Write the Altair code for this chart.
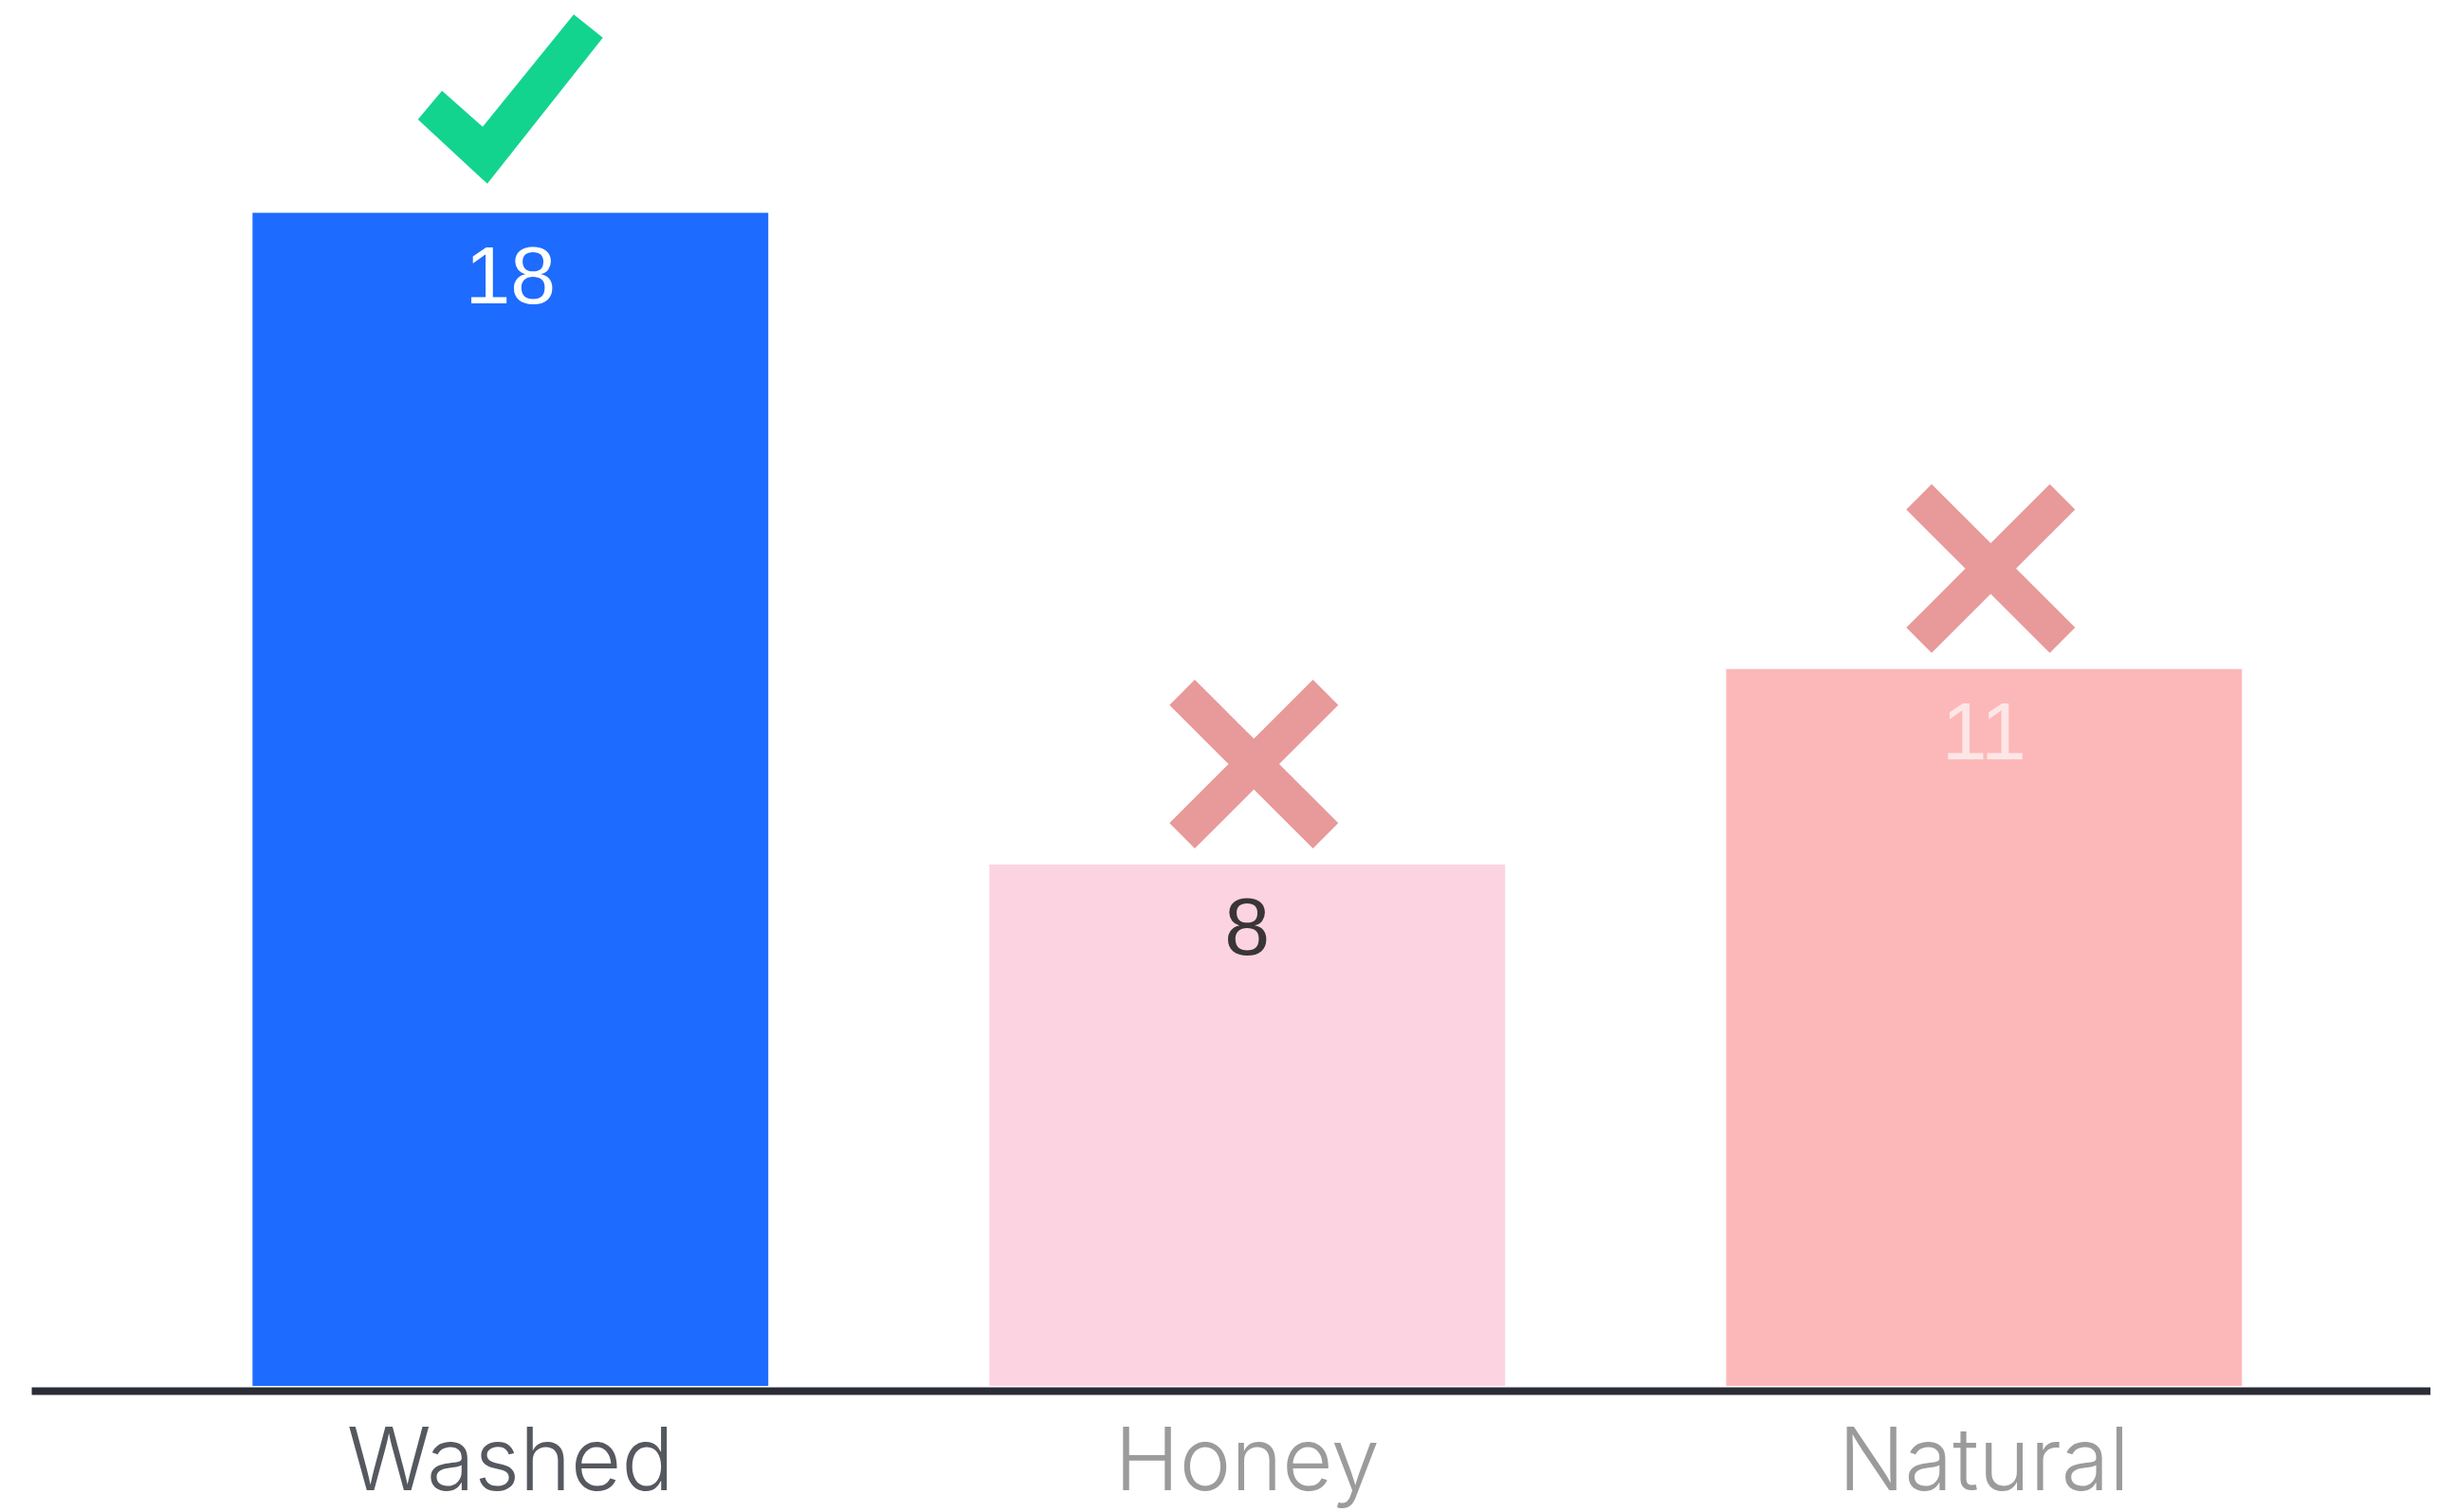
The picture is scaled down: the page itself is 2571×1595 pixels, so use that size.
import altair as alt
import pandas as pd

# ---- data ----
categories = ["Washed", "Honey", "Natural"]
values = [18, 8, 11]
verdicts = ["good", "bad", "bad"]

# ---- styles ----
bar_colors = ["#1E6BFF", "#FCD3E1", "#FCB8B9"]
value_label_colors = ["#FFFFFF", "#3A3537", "#FDE6E6"]
CHECK_COLOR = "#12D48F"
CROSS_COLOR = "#E8999A"
AXIS_COLOR = "#2A2D35"

CHECK_PATH = "M-1,0.22L-0.74,-0.09L-0.30,0.30L0.685,-0.915L1,-0.665L-0.25,0.915Z"
CROSS_PATH = ("M0,-0.30L0.70,-1L1,-0.70L0.30,0L1,0.70L0.70,1L0,0.30"
              "L-0.70,1L-1,0.70L-0.30,0L-1,-0.70L-0.70,-1Z")

df = pd.DataFrame({"category": categories, "value": values, "verdict": verdicts})

x_enc = alt.X(
    "category:N",
    sort=categories,
    scale=alt.Scale(paddingInner=0.3, paddingOuter=0.278, align=0.54),
    axis=alt.Axis(
        title=None,
        ticks=False,
        tickSize=0,
        grid=False,
        domainColor=AXIS_COLOR,
        domainWidth=8,
        offset=5,
        labelAngle=0,
        labelFont="Inter",
        labelFontSize=92,
        labelFontWeight=300,
        labelLimit=2000,
        labelPadding=104,
        labelBaseline="alphabetic",
        labelColor={
            "condition": {"test": "datum.value === 'Washed'", "value": "#55595F"},
            "value": "#9B9B9B",
        },
    ),
)
y_enc = alt.Y(
    "value:Q",
    scale=alt.Scale(domain=[0, 21.15], nice=False, zero=True),
    axis=None,
)

base = alt.Chart(df)

bars = base.mark_bar().encode(
    x=x_enc,
    y=y_enc,
    color=alt.Color(
        "category:N",
        scale=alt.Scale(domain=categories, range=bar_colors),
        legend=None,
    ),
)

labels = base.mark_text(
    baseline="alphabetic",
    align="center",
    dy=95,
    fontSize=86,
    font="Liberation Sans",
).encode(
    x=alt.X("category:N", sort=categories),
    y=alt.Y("value:Q"),
    text=alt.Text("value:Q"),
    color=alt.Color(
        "category:N",
        scale=alt.Scale(domain=categories, range=value_label_colors),
        legend=None,
    ),
)

checks = base.transform_filter("datum.verdict === 'good'").mark_point(
    shape=CHECK_PATH,
    filled=True,
    size=38025,
    color=CHECK_COLOR,
    opacity=1,
    strokeWidth=0,
    yOffset=-120,
).encode(
    x=alt.X("category:N", sort=categories),
    y=alt.Y("value:Q"),
)

crosses = base.transform_filter("datum.verdict === 'bad'").mark_point(
    shape=CROSS_PATH,
    filled=True,
    size=31684,
    color=CROSS_COLOR,
    opacity=1,
    strokeWidth=0,
    xOffset=7,
    yOffset=-106,
).encode(
    x=alt.X("category:N", sort=categories),
    y=alt.Y("value:Q"),
)

chart = (
    alt.layer(bars, labels, checks, crosses)
    .resolve_scale(color="independent")
    .properties(
        width=2530,
        height=1454,
        autosize=alt.AutoSizeParams(type="none"),
        padding={"left": 25, "top": 0, "right": 0, "bottom": 130},
        background="#FFFFFF",
    )
    .configure_view(stroke=None)
)

chart.save("out.html", embed_options={"renderer": "svg", "actions": False})
